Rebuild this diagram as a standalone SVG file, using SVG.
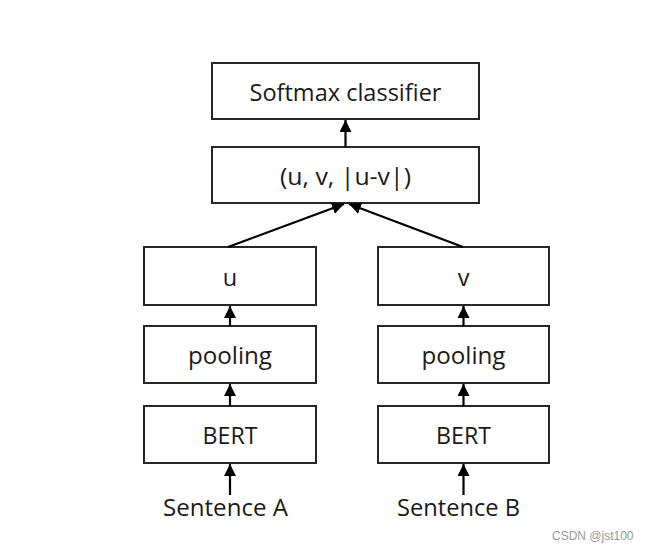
<svg xmlns="http://www.w3.org/2000/svg" width="645" height="553" viewBox="0 0 645 553">
<style>
.box{fill:#fff;stroke:#262626;stroke-width:2}
.lbl{font-family:"Open Sans","Noto Sans",sans-serif;font-size:23.5px;fill:#1a1a1a;text-anchor:middle}
.edge{stroke:#000;stroke-width:2.2;fill:none;marker-end:url(#ah)}
.wm{font-family:"Liberation Sans",Arial,sans-serif;font-size:12px;fill:#999}
</style>
<defs>
<marker id="ah" markerUnits="userSpaceOnUse" viewBox="0 0 12 12" refX="12" refY="6" markerWidth="12" markerHeight="12" orient="auto">
<path d="M0,0 L12,6 L0,12 Z" fill="#000"/>
</marker>
</defs>
<rect width="645" height="553" fill="#fff"/>
<g id="softmax"><rect class="box" x="212" y="63" width="267" height="56"/><text class="lbl" x="345.5" y="101" textLength="192" lengthAdjust="spacingAndGlyphs">Softmax classifier</text></g>
<g id="tuple"><rect class="box" x="212" y="147" width="267" height="56"/><text class="lbl" x="345.5" y="185" textLength="131" lengthAdjust="spacingAndGlyphs">(u, v, |u-v|)</text></g>
<g id="u"><rect class="box" x="144" y="247" width="172" height="58"/><text class="lbl" x="230" y="286">u</text></g>
<g id="v"><rect class="box" x="378" y="247" width="171" height="58"/><text class="lbl" x="463.5" y="286">v</text></g>
<g id="poolingA"><rect class="box" x="144" y="326" width="172" height="57"/><text class="lbl" x="230" y="364" textLength="84" lengthAdjust="spacingAndGlyphs">pooling</text></g>
<g id="poolingB"><rect class="box" x="378" y="326" width="171" height="57"/><text class="lbl" x="463.5" y="364" textLength="84" lengthAdjust="spacingAndGlyphs">pooling</text></g>
<g id="bertA"><rect class="box" x="144" y="406" width="172" height="57"/><text class="lbl" x="230" y="444" textLength="55" lengthAdjust="spacingAndGlyphs">BERT</text></g>
<g id="bertB"><rect class="box" x="378" y="406" width="171" height="57"/><text class="lbl" x="463.5" y="444" textLength="55" lengthAdjust="spacingAndGlyphs">BERT</text></g>
<g id="sentA"><text class="lbl" x="225.5" y="516" textLength="125" lengthAdjust="spacingAndGlyphs">Sentence A</text></g>
<g id="sentB"><text class="lbl" x="458.5" y="516" textLength="123" lengthAdjust="spacingAndGlyphs">Sentence B</text></g>
<g id="connectors">
<line class="edge" x1="345.5" y1="147" x2="345.5" y2="120"/>
<line class="edge" x1="228" y1="247" x2="344" y2="204"/>
<line class="edge" x1="463" y1="247" x2="349" y2="204"/>
<line class="edge" x1="230" y1="326" x2="230" y2="306"/>
<line class="edge" x1="463.5" y1="326" x2="463.5" y2="306"/>
<line class="edge" x1="230" y1="406" x2="230" y2="384"/>
<line class="edge" x1="463.5" y1="406" x2="463.5" y2="384"/>
<line class="edge" x1="230" y1="495" x2="230" y2="464"/>
<line class="edge" x1="463.5" y1="495" x2="463.5" y2="464"/>
</g>
<text class="wm" x="552" y="540">CSDN @jst100</text>
</svg>
